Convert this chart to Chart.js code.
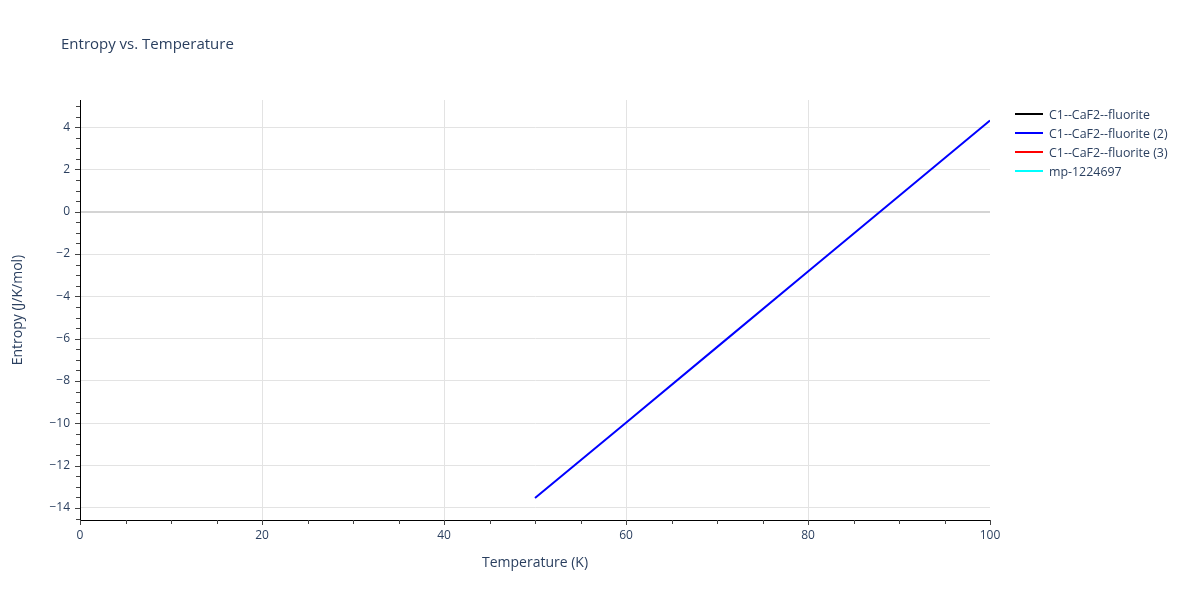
<!DOCTYPE html>
<html>
<head>
<meta charset="utf-8">
<script src="https://cdn.jsdelivr.net/npm/chart.js@4/dist/chart.umd.min.js"></script>
<style>
  body { margin: 0; background: #fff; }
  #wrap { position: relative; width: 1200px; height: 600px; }
</style>
</head>
<body>
<div id="wrap"><canvas id="chart" width="1200" height="600"></canvas></div>
<script>
// values
const temps = [50, 60, 70, 80, 90, 100];
const entropy2 = [-13.53, -9.97, -6.40, -2.83, 0.74, 4.31];
const entropy1 = []; // not visible in the picture
const entropy3 = [];
const entropyMp = [];
const seriesNames = ["C1--CaF2--fluorite", "C1--CaF2--fluorite (2)", "C1--CaF2--fluorite (3)", "mp-1224697"];
const seriesColors = ["#000000", "#0000ff", "#ff0000", "#00ffff"];
const xTicks = [0, 20, 40, 60, 80, 100];
const yTicks = [-14, -12, -10, -8, -6, -4, -2, 0, 2, 4];

const FONT = '"Open Sans", verdana, arial, sans-serif';
const TEXT = '#2a3f5f';

function pts(ys) { return ys.map((y, i) => ({ x: temps[i], y: y })); }
const allY = [entropy1, entropy2, entropy3, entropyMp];

const fmt = v => (v < 0 ? '\u2212' + Math.abs(v) : String(v));

// title, legend, minor ticks
const extras = {
  id: 'extras',
  afterDraw(chart) {
    const ctx = chart.ctx;
    const xs = chart.scales.x, ys = chart.scales.y;
    const a = chart.chartArea;
    ctx.save();
    // minor + major ticks on y
    ctx.strokeStyle = '#444';
    ctx.lineWidth = 1;
    for (let v = -14.5; v <= 5.01; v += 0.5) {
      const py = Math.round(ys.getPixelForValue(v)) + 0.5;
      const major = Number.isInteger(v / 2);
      ctx.beginPath();
      ctx.moveTo(a.left - (major ? 5 : 4), py);
      ctx.lineTo(a.left, py);
      ctx.stroke();
    }
    for (let v = 0; v <= 100; v += 5) {
      const px = Math.round(xs.getPixelForValue(v)) + 0.5;
      const major = v % 20 === 0;
      ctx.beginPath();
      ctx.moveTo(px, a.bottom);
      ctx.lineTo(px, a.bottom + (major ? 5 : 4));
      ctx.stroke();
    }
    // title
    ctx.fillStyle = TEXT;
    ctx.font = '15px ' + FONT;
    ctx.textAlign = 'left';
    ctx.textBaseline = 'middle';
    ctx.fillText('Entropy vs. Temperature', 61, 45);
    // axis titles
    ctx.font = '14px ' + FONT;
    ctx.textAlign = 'center';
    ctx.fillText('Temperature (K)', (a.left + a.right) / 2, 563);
    ctx.save();
    ctx.translate(18, (a.top + a.bottom) / 2);
    ctx.rotate(-Math.PI / 2);
    ctx.fillText('Entropy (J/K/mol)', 0, 0);
    ctx.restore();
    // legend
    ctx.font = '12.4px ' + FONT;
    ctx.textAlign = 'left';
    seriesNames.forEach((n, i) => {
      const y = 114 + i * 19;
      ctx.strokeStyle = seriesColors[i];
      ctx.lineWidth = 2;
      ctx.beginPath();
      ctx.moveTo(1015, y);
      ctx.lineTo(1043, y);
      ctx.stroke();
      ctx.fillStyle = TEXT;
      ctx.fillText(n, 1049, y + 1);
    });
    ctx.restore();
  }
};

new Chart(document.getElementById('chart'), {
  type: 'line',
  data: {
    datasets: seriesNames.map((n, i) => ({
      label: n,
      data: pts(allY[i]),
      borderColor: seriesColors[i],
      borderWidth: 2,
      pointRadius: 0,
      fill: false,
      tension: 0,
      order: i === 1 ? 0 : 1
    }))
  },
  options: {
    responsive: false,
    animation: false,
    layout: { padding: { left: 0, top: 100, right: 210, bottom: 0 } },
    plugins: { legend: { display: false }, title: { display: false }, tooltip: { enabled: false } },
    scales: {
      x: {
        type: 'linear',
        min: 0, max: 100,
        afterFit: s => { s.height = 80; },
        afterBuildTicks: s => { s.ticks = xTicks.map(v => ({ value: v })); },
        ticks: { color: TEXT, font: { family: FONT, size: 12 }, padding: 8, maxRotation: 0 },
        grid: {
          drawTicks: false,
          color: c => (c.tick && (c.tick.value === 0 || c.tick.value === 100)) ? 'rgba(0,0,0,0)' : '#e3e3e3'
        },
        border: { display: true, color: '#000', width: 1 }
      },
      y: {
        type: 'linear',
        min: -14.57, max: 5.28,
        afterFit: s => { s.width = 80; },
        afterBuildTicks: s => { s.ticks = yTicks.map(v => ({ value: v })); },
        ticks: { color: TEXT, font: { family: FONT, size: 12 }, padding: 10, callback: v => fmt(v) },
        grid: {
          drawTicks: false,
          color: c => (c.tick && c.tick.value === 0) ? '#d4d4d4' : '#e3e3e3',
          lineWidth: c => (c.tick && c.tick.value === 0) ? 2 : 1
        },
        border: { display: true, color: '#000', width: 1 }
      }
    }
  },
  plugins: [extras]
});
</script>
</body>
</html>
